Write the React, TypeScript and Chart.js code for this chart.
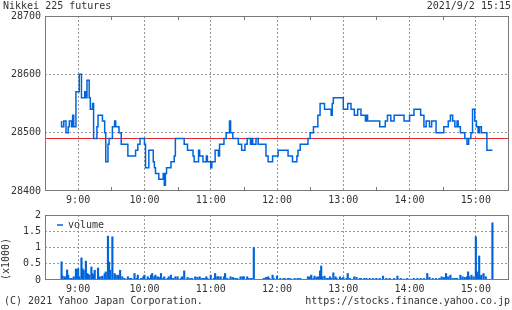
import React, { useEffect, useRef } from 'react';
import { Chart, registerables } from 'chart.js';

Chart.register(...registerables);

// ---------- text ----------
const TITLE = 'Nikkei 225 futures';
const STAMP = '2021/9/2 15:15';
const COPYRIGHT = '(C) 2021 Yahoo Japan Corporation.';
const SOURCE = 'https://stocks.finance.yahoo.co.jp';
const VOLUME_LABEL = 'volume';
const VOLUME_UNIT = '(x1000)';

// ---------- axes ----------
// x values are minutes after 8:30 (8:30 .. 15:30)
const X_MIN = 0;
const X_MAX = 420;
const hourMinutes = [30, 90, 150, 210, 270, 330, 390];
const hourLabels = ['9:00', '10:00', '11:00', '12:00', '13:00', '14:00', '15:00'];
const priceTicks = [28400, 28500, 28600, 28700];
const volumeTicks = [0, 0.5, 1, 1.5, 2];

// ---------- price (step changes) ----------
const priceMinutes = [
  15, 17, 19, 21, 22, 24, 25, 26, 28, 31, 33, 36, 37, 38, 40, 41, 43, 44, 47, 48,
  52, 54, 55, 57, 58, 61, 63, 64, 67, 69, 75, 82, 84, 86, 90, 91, 94, 98, 99, 100,
  103, 107, 108, 109, 110, 114, 117, 118, 126, 129, 134, 135, 139, 140, 143, 146, 147, 150, 151, 154,
  157, 158, 162, 164, 167, 168, 170, 175, 178, 181, 183, 186, 187, 188, 191, 193, 200, 202, 206, 211,
  220, 224, 228, 229, 231, 238, 240, 243, 247, 249, 253, 259, 260, 261, 270, 274, 277, 280, 283, 286,
  290, 291, 292, 303, 308, 310, 313, 316, 325, 330, 334, 340, 343, 345, 348, 350, 354, 361, 365, 367,
  369, 371, 373, 374, 376, 380, 382, 383.5, 385.5, 387, 389, 390.5, 392, 393.3, 395, 400, 405,
];
const priceValues = [
  28520, 28510, 28520, 28500, 28510, 28520, 28510, 28530, 28510, 28570, 28600, 28560, 28570, 28560, 28590, 28560, 28540, 28550, 28490, 28510,
  28530, 28520, 28500, 28450, 28480, 28490, 28510, 28520, 28510, 28500, 28480, 28460, 28470, 28480, 28490, 28480, 28440, 28470, 28450, 28440,
  28430, 28420, 28430, 28410, 28430, 28440, 28450, 28460, 28490, 28480, 28470, 28460, 28450, 28470, 28460, 28450, 28460, 28450, 28440, 28450,
  28470, 28460, 28480, 28490, 28500, 28520, 28500, 28490, 28480, 28470, 28480, 28490, 28480, 28490, 28480, 28490, 28480, 28460, 28450, 28460,
  28470, 28460, 28450, 28460, 28470, 28480, 28490, 28500, 28510, 28530, 28550, 28540, 28530, 28550, 28560, 28540, 28550, 28540, 28530, 28540,
  28530, 28520, 28530, 28520, 28510, 28520, 28530, 28520, 28530, 28520, 28530, 28540, 28530, 28510, 28520, 28510, 28520, 28500, 28510, 28520,
  28530, 28520, 28510, 28520, 28510, 28500, 28490, 28480, 28490, 28500, 28540, 28520, 28510, 28500, 28510, 28500, 28470,
];
const PREV_CLOSE = 28490;

// ---------- volume (x1000) ----------
const volumeMinutes = [
  15, 16, 18, 20, 21, 23, 24, 26, 28, 30, 31, 33, 34, 35, 37, 38, 39, 40, 42, 43,
  44, 45, 48, 49, 51, 52, 54, 55, 57, 58, 59, 61, 63, 64, 66, 68, 70, 72, 75, 77,
  78, 81, 83, 84, 87, 89, 90, 93, 94, 96, 97, 99, 100, 102, 103, 105, 107, 108, 111, 112,
  114, 116, 118, 120, 123, 124, 126, 129, 131, 133, 136, 138, 140, 142, 144, 146, 147, 150, 153, 154,
  156, 157, 159, 162, 163, 165, 168, 170, 172, 174, 177, 179, 180, 183, 184, 186, 187, 189, 198, 200,
  202, 203, 206, 207, 210, 213, 216, 217, 220, 222, 226, 228, 229, 231, 238, 240, 241, 243, 244, 246,
  247, 249, 250, 251, 253, 255, 256, 258, 259, 261, 263, 264, 267, 268, 270, 273, 274, 276, 280, 282,
  285, 286, 289, 291, 294, 297, 300, 303, 306, 309, 312, 316, 319, 322, 325, 328, 331, 334, 337, 340,
  343, 346, 348, 351, 354, 357, 359, 361, 363, 365, 367, 369, 371, 373, 376, 378, 380, 382, 383, 384,
  386, 388, 390, 391, 392, 393, 394, 395, 397, 399, 405,
];
const volumeValues = [
  0.56, 0.12, 0.1, 0.31, 0.15, 0.05, 0.05, 0.1, 0.34, 0.35, 0.1, 0.68, 0.35, 0.3, 0.58, 0.2, 0.18, 0.15, 0.4, 0.2,
  0.15, 0.3, 0.37, 0.1, 0.1, 0.12, 0.2, 0.25, 1.35, 0.55, 0.3, 1.33, 0.2, 0.15, 0.15, 0.3, 0.1, 0.05, 0.1, 0.05,
  0.05, 0.2, 0.05, 0.15, 0.05, 0.1, 0.15, 0.1, 0.05, 0.15, 0.2, 0.1, 0.15, 0.1, 0.08, 0.2, 0.05, 0.1, 0.05, 0.1,
  0.15, 0.05, 0.1, 0.1, 0.05, 0.1, 0.28, 0.08, 0.05, 0.05, 0.1, 0.08, 0.1, 0.05, 0.05, 0.1, 0.05, 0.15, 0.05, 0.2,
  0.1, 0.1, 0.1, 0.1, 0.2, 0.05, 0.1, 0.08, 0.05, 0.05, 0.1, 0.1, 0.1, 0.1, 0.05, 0.05, 0.05, 1.0, 0.05, 0.08,
  0.1, 0.05, 0.15, 0.05, 0.12, 0.05, 0.05, 0.05, 0.05, 0.05, 0.05, 0.03, 0.05, 0.05, 0.1, 0.1, 0.15, 0.05, 0.12, 0.08,
  0.1, 0.28, 0.43, 0.1, 0.12, 0.05, 0.05, 0.1, 0.05, 0.22, 0.1, 0.05, 0.1, 0.05, 0.08, 0.05, 0.2, 0.05, 0.1, 0.08,
  0.05, 0.05, 0.05, 0.05, 0.05, 0.05, 0.05, 0.05, 0.12, 0.05, 0.05, 0.05, 0.12, 0.05, 0.03, 0.05, 0.03, 0.05, 0.05, 0.05,
  0.05, 0.2, 0.08, 0.05, 0.05, 0.05, 0.1, 0.08, 0.2, 0.1, 0.15, 0.05, 0.05, 0.05, 0.15, 0.1, 0.08, 0.1, 0.25, 0.1,
  0.15, 0.1, 1.33, 0.25, 0.1, 0.74, 0.1, 0.15, 0.2, 0.1, 1.76,
];

// ---------- style ----------
const BLUE = '#0064dc';
const RED = '#e8282d';
const GRID = '#999999';
const FRAME = '#7a7a7a';
const TEXT = '#333333';
const FONT_FAMILY = "'DejaVu Sans Mono', 'Liberation Mono', monospace";
const FONT = { family: FONT_FAMILY, size: 10 };

const hourLabel = (v: number) => {
  const i = hourMinutes.indexOf(v);
  return i >= 0 ? hourLabels[i] : '';
};

const framePlugin = {
  id: 'frame',
  afterDraw(chart: any) {
    const { ctx, chartArea: a } = chart;
    ctx.save();
    ctx.strokeStyle = FRAME;
    ctx.lineWidth = 1;
    const l = Math.round(a.left) + 0.5;
    const t = Math.round(a.top) + 0.5;
    const r = Math.round(a.right) - 0.5;
    const b = Math.round(a.bottom) - 0.5;
    ctx.strokeRect(l, t, r - l, b - t);
    ctx.restore();
  },
};

const halfHourTicks = {
  id: 'halfHourTicks',
  afterDraw(chart: any) {
    const { ctx, chartArea: a } = chart;
    const xs = chart.scales.x;
    ctx.save();
    ctx.strokeStyle = FRAME;
    ctx.lineWidth = 1;
    xs.ticks.forEach((t: any) => {
      if (t.value % 60 === 0 && t.value > X_MIN && t.value < X_MAX) {
        const px = Math.round(xs.getPixelForValue(t.value)) + 0.5;
        ctx.beginPath();
        ctx.moveTo(px, Math.round(a.top));
        ctx.lineTo(px, Math.round(a.top) + 4);
        ctx.moveTo(px, Math.round(a.bottom));
        ctx.lineTo(px, Math.round(a.bottom) - 4);
        ctx.stroke();
      }
    });
    ctx.restore();
  },
};

// places the legend inside the plot area, near its top-left corner
const legendShift = {
  id: 'legendShift',
  afterLayout(chart: any) {
    const lg = chart.legend;
    const a = chart.chartArea;
    if (lg && a) {
      const w = lg.right - lg.left;
      const h = lg.bottom - lg.top;
      lg.left = a.left + 7;
      lg.right = lg.left + w;
      lg.top = a.top;
      lg.bottom = lg.top + h;
    }
  },
};

const xScale = (height: number) => ({
  type: 'linear' as const,
  min: X_MIN,
  max: X_MAX,
  offset: false,
  ticks: {
    stepSize: 30,
    autoSkip: false,
    maxRotation: 0,
    padding: 3,
    color: TEXT,
    font: FONT,
    callback: (v: any) => hourLabel(Number(v)),
  },
  grid: {
    offset: false,
    drawTicks: false,
    lineWidth: 1,
    color: (c: any) => (c.tick && hourMinutes.includes(c.tick.value) ? GRID : 'rgba(0,0,0,0)'),
  },
  border: { display: false, dash: [2, 2] },
  afterFit: (s: any) => {
    s.height = height;
  },
});

export default function App() {
  const priceRef = useRef<HTMLCanvasElement>(null);
  const volRef = useRef<HTMLCanvasElement>(null);

  useEffect(() => {
    const priceChart = new Chart(priceRef.current as HTMLCanvasElement, {
      type: 'line',
      data: {
        datasets: [
          {
            label: 'price',
            data: priceMinutes.map((m, i) => ({ x: m, y: priceValues[i] })),
            borderColor: BLUE,
            borderWidth: 1.5,
            stepped: 'after',
            pointRadius: 0,
            fill: false,
          },
          {
            label: 'previous close',
            data: [
              { x: X_MIN, y: PREV_CLOSE },
              { x: X_MAX, y: PREV_CLOSE },
            ],
            borderColor: RED,
            borderWidth: 1,
            pointRadius: 0,
            fill: false,
          },
        ],
      },
      options: {
        animation: false,
        responsive: false,
        events: [],
        layout: { padding: { top: 16, right: 1, left: 0, bottom: 0 } },
        plugins: { legend: { display: false }, tooltip: { enabled: false } },
        scales: {
          x: xScale(17) as any,
          y: {
            min: priceTicks[0],
            max: priceTicks[priceTicks.length - 1],
            afterBuildTicks: (s: any) => {
              s.ticks = priceTicks.map((v) => ({ value: v }));
            },
            ticks: { padding: 4, color: TEXT, font: FONT, callback: (v: any) => String(v) },
            grid: {
              drawTicks: false,
              lineWidth: 1,
              color: (c: any) =>
                c.tick && c.tick.value > priceTicks[0] && c.tick.value < priceTicks[priceTicks.length - 1]
                  ? GRID
                  : 'rgba(0,0,0,0)',
            },
            border: { display: false, dash: [2, 2] },
            afterFit: (s: any) => {
              s.width = 45;
            },
          },
        },
      },
      plugins: [framePlugin, halfHourTicks],
    });

    const volChart = new Chart(volRef.current as HTMLCanvasElement, {
      type: 'bar',
      data: {
        datasets: [
          {
            label: VOLUME_LABEL,
            data: volumeMinutes.map((m, i) => ({ x: m, y: volumeValues[i] })),
            backgroundColor: BLUE,
            borderWidth: 0,
            barThickness: 1.5,
          },
        ],
      },
      options: {
        animation: false,
        responsive: false,
        events: [],
        layout: { padding: { top: 10, right: 1, left: 0, bottom: 0 } },
        plugins: {
          tooltip: { enabled: false },
          legend: {
            display: true,
            position: 'chartArea',
            align: 'start',
            labels: {
              usePointStyle: true,
              pointStyle: 'line',
              pointStyleWidth: 6,
              padding: 5,
              color: TEXT,
              font: FONT,
              generateLabels: (chart: any) =>
                Chart.defaults.plugins.legend.labels.generateLabels(chart).map((l: any) => ({
                  ...l,
                  lineWidth: 1.5,
                  strokeStyle: BLUE,
                  fillStyle: BLUE,
                })),
            },
          },
        },
        scales: {
          x: xScale(20) as any,
          y: {
            min: volumeTicks[0],
            max: volumeTicks[volumeTicks.length - 1],
            afterBuildTicks: (s: any) => {
              s.ticks = volumeTicks.map((v) => ({ value: v }));
            },
            ticks: { padding: 4, color: TEXT, font: FONT, callback: (v: any) => String(v) },
            title: {
              display: true,
              text: VOLUME_UNIT,
              align: 'start',
              color: TEXT,
              font: FONT,
              padding: 0,
            },
            grid: {
              drawTicks: false,
              lineWidth: 1,
              color: (c: any) =>
                c.tick && c.tick.value > volumeTicks[0] && c.tick.value < volumeTicks[volumeTicks.length - 1]
                  ? GRID
                  : 'rgba(0,0,0,0)',
            },
            border: { display: false, dash: [2, 2] },
            afterFit: (s: any) => {
              s.width = 45;
            },
          },
        },
      },
      plugins: [framePlugin, legendShift],
    });

    return () => {
      priceChart.destroy();
      volChart.destroy();
    };
  }, []);

  const textStyle: React.CSSProperties = {
    position: 'absolute',
    fontFamily: FONT_FAMILY,
    fontSize: '10px',
    lineHeight: '12px',
    color: TEXT,
    whiteSpace: 'pre',
  };

  return (
    <div
      style={{
        position: 'absolute',
        left: 0,
        top: 0,
        width: 512,
        height: 310,
        background: '#ffffff',
        overflow: 'hidden',
      }}
    >
      <canvas
        ref={priceRef}
        width={512}
        height={208}
        style={{ position: 'absolute', left: 0, top: 0, width: 512, height: 208 }}
      />
      <canvas
        ref={volRef}
        width={512}
        height={95}
        style={{ position: 'absolute', left: 0, top: 205, width: 512, height: 95 }}
      />
      <div style={{ ...textStyle, left: 3, top: 0 }}>{TITLE}</div>
      <div style={{ ...textStyle, right: 1, top: 0 }}>{STAMP}</div>
      <div style={{ ...textStyle, left: 4, top: 295 }}>{COPYRIGHT}</div>
      <div style={{ ...textStyle, right: 2, top: 295 }}>{SOURCE}</div>
    </div>
  );
}
